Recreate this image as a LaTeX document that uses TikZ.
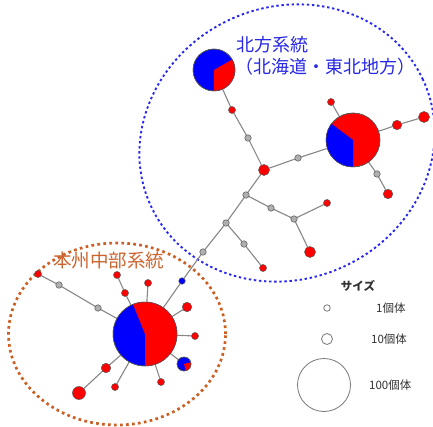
\documentclass[tikz,border=0pt]{standalone}
\usepackage{fontspec}
\newfontfamily\jp{Noto Sans CJK JP}
\usetikzlibrary{backgrounds}
\definecolor{nred}{RGB}{255,0,0}
\definecolor{nblue}{RGB}{0,0,255}
\definecolor{ngray}{RGB}{175,175,175}
\definecolor{edgec}{RGB}{135,135,135}
\definecolor{outl}{RGB}{85,85,85}
\definecolor{bluetxt}{RGB}{40,40,230}
\definecolor{orgtxt}{RGB}{205,100,45}
\definecolor{orgdot}{RGB}{205,95,35}
\definecolor{bluedot}{RGB}{40,40,240}
\definecolor{legc}{RGB}{120,120,120}
\newcommand\pienode[7]{%
  \node[dotnode, minimum size={2*#3pt}, fill=#4] (#1) at (#2) {};
  \fill[#5] (#1.center) -- ++(#6:#3pt) arc[start angle=#6, end angle=#7, radius=#3pt] -- cycle;
  \draw[outl, line width=0.5pt] (#1.center) circle[radius=#3pt];
}
\begin{document}
\begin{tikzpicture}[x=1pt,y=-1pt,
  dotnode/.style={circle, inner sep=0pt, outer sep=0pt, draw=outl, line width=0.5pt},
  rs/.style={dotnode, fill=nred, minimum size=7pt},
  rm/.style={dotnode, fill=nred, minimum size=9.5pt},
  rl/.style={dotnode, fill=nred, minimum size=11pt},
  rxl/.style={dotnode, fill=nred, minimum size=13pt},
  gs/.style={dotnode, fill=ngray, minimum size=6.5pt},
  bs/.style={dotnode, fill=nblue, minimum size=6.5pt},
  edge/.style={draw=edgec, line width=1.1pt},
  legcirc/.style={circle, inner sep=0pt, draw=legc, line width=0.8pt, fill=white},
  legtext/.style={font=\jp\fontsize{11.5}{12}\selectfont, text=black!80},
]
\useasboundingbox (0,0) rectangle (433,427);

% ---- north group ----
\pienode{nw}{214,70}{21}{nblue}{nred}{30}{-90}
\node[rs] (n1) at (232,110) {};
\node[gs] (n2) at (248,138) {};
\node[rl] (n3) at (264,170) {};
\node[gs] (n4) at (298,158) {};
\pienode{ne}{353,140}{27}{nred}{nblue}{143}{270}
\node[rs] (n5) at (331,102) {};
\node[rm] (n6) at (397,125) {};
\node[rl] (n7) at (424,117) {};
\node[gs] (n8) at (377,174) {};
\node[rm] (n9) at (388,194) {};
\node[gs] (m1) at (246,195) {};
\node[gs] (m2) at (271,208) {};
\node[gs] (m3) at (294,219) {};
\node[rs] (m4) at (327,203) {};
\node[rl] (m5) at (310,252) {};
\node[gs] (k1) at (226,223) {};
\node[gs] (k2) at (244,244) {};
\node[rs] (k3) at (263,268) {};
\node[gs] (k4) at (203,252) {};
\node[bs] (k5) at (182,281) {};

% ---- south group ----
\pienode{sp}{145,334}{32}{nblue}{nred}{-90}{112}
\pienode{ss}{184,364}{7}{nblue}{nred}{-75}{15}
\node[rm] (s1) at (187,307) {};
\node[rs] (s2) at (195,336) {};
\node[rs] (s3) at (161,382) {};
\node[rs] (s4) at (115,387) {};
\node[rm] (s5) at (106,368) {};
\node[rxl] (s6) at (79,393) {};
\node[rs] (s7) at (148,283) {};
\node[rs] (s8) at (125,293) {};
\node[rs] (s9) at (117,275) {};
\node[gs] (s10) at (98,308) {};
\node[gs] (s11) at (59,285) {};
\node[rs] (s12) at (38,274) {};

\begin{pgfonlayer}{background}
  \fill[white] (0,0) rectangle (433,427);
  \coordinate (bc) at (287,143);
  \coordinate (oc) at (117,334);
  \draw[bluedot, line width=1.9pt, dash pattern=on 2.4pt off 2.7pt, rotate around={25:(bc)}]
    (bc) ellipse[x radius=150pt, y radius=136pt];
  \draw[orgdot, line width=2.7pt, dash pattern=on 2.7pt off 3.3pt]
    (oc) ellipse[x radius=108.5pt, y radius=91pt];
  \draw[edge] (nw) -- (n1) -- (n2) -- (n3) -- (n4) -- (ne);
  \draw[edge] (ne) -- (n5);
  \draw[edge] (ne) -- (n6) -- (n7);
  \draw[edge] (ne) -- (n8) -- (n9);
  \draw[edge] (n3) -- (m1) -- (m2) -- (m3) -- (m4);
  \draw[edge] (m3) -- (m5);
  \draw[edge] (m1) -- (k1) -- (k2) -- (k3);
  \draw[edge] (k1) -- (k4) -- (k5) -- (sp);
  \draw[edge] (sp) -- (s1);
  \draw[edge] (sp) -- (s2);
  \draw[edge] (sp) -- (ss);
  \draw[edge] (sp) -- (s3);
  \draw[edge] (sp) -- (s4);
  \draw[edge] (sp) -- (s5) -- (s6);
  \draw[edge] (sp) -- (s7);
  \draw[edge] (sp) -- (s8) -- (s9);
  \draw[edge] (sp) -- (s10) -- (s11) -- (s12);
\end{pgfonlayer}

% ---- labels ----
\node[anchor=west, inner sep=0pt, text=bluetxt, font=\jp\fontsize{18}{19}\selectfont] (tn1) at (236,45) {北方系統};
\node[anchor=west, inner sep=0pt, text=bluetxt, font=\jp\fontsize{18}{19}\selectfont] (tn2) at (235,67) {（北海道・東北地方）};
\node[anchor=west, inner sep=0pt, text=orgtxt, font=\jp\fontsize{18.5}{19}\selectfont] (ts) at (53,261) {本州中部系統};

% ---- legend ----
\node[legtext, font=\jp\bfseries\fontsize{11.5}{12}\selectfont] (lt) at (358,286) {サイズ};
\node[legcirc, minimum size=6.5pt] (l1) at (327,308) {};
\node[legcirc, minimum size=11pt] (l2) at (327,339) {};
\node[legcirc, minimum size=53pt] (l3) at (324,385) {};
\node[legtext, anchor=west, inner sep=0pt] (lt1) at (376,308) {1個体};
\node[legtext, anchor=west, inner sep=0pt] (lt2) at (371,339) {10個体};
\node[legtext, anchor=west, inner sep=0pt] (lt3) at (369,385) {100個体};
\end{tikzpicture}
\end{document}
